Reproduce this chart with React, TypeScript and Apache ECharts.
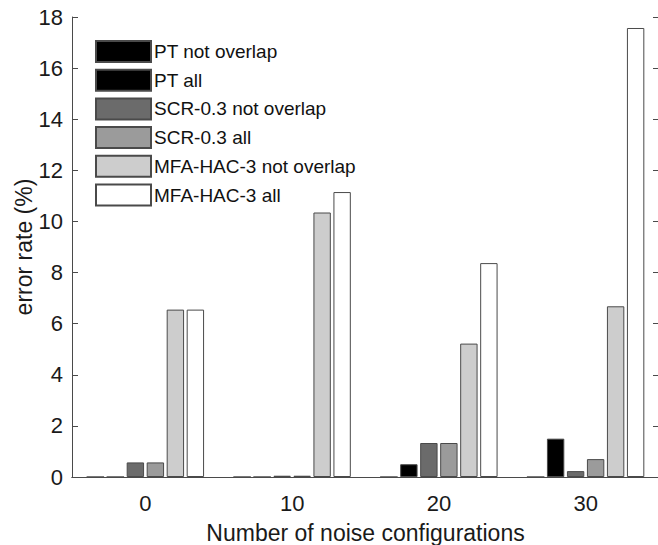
import React, { useEffect, useRef } from "react";
import * as echarts from "echarts";

const categories = ["0", "10", "20", "30"];
const seriesNames = [
  "PT not overlap",
  "PT all",
  "SCR-0.3 not overlap",
  "SCR-0.3 all",
  "MFA-HAC-3 not overlap",
  "MFA-HAC-3 all",
];
const ptNotOverlap = [0, 0, 0, 0];
const ptAll = [0, 0, 0.5, 1.5];
const scrNotOverlap = [0.57, 0.05, 1.33, 0.23];
const scrAll = [0.57, 0.05, 1.33, 0.7];
const mfaNotOverlap = [6.55, 10.35, 5.22, 6.68];
const mfaAll = [6.55, 11.15, 8.37, 17.57];
const seriesColors = ["#000000", "#000000", "#6b6b6b", "#9b9b9b", "#cdcdcd", "#ffffff"];
const yTicks = { min: 0, max: 18, interval: 2 };

export default function App() {
  const ref = useRef<HTMLDivElement>(null);
  useEffect(() => {
    if (!ref.current) return;
    const chart = echarts.init(ref.current, null, { renderer: "svg" });
    const allData = [ptNotOverlap, ptAll, scrNotOverlap, scrAll, mfaNotOverlap, mfaAll];
    const font = "'Liberation Sans', Arial, Helvetica, sans-serif";
    const axisLineStyle = { color: "#4a4a4a", width: 1 };
    chart.setOption({
      animation: false,
      backgroundColor: "#ffffff",
      textStyle: { fontFamily: font },
      grid: {
        left: 72,
        right: 9,
        top: 17,
        bottom: 68,
        containLabel: false,
        outerBoundsMode: "none",
      },
      legend: {
        orient: "vertical",
        left: 95,
        top: 40,
        itemWidth: 55,
        itemHeight: 21,
        itemGap: 5.7,
        icon: "rect",
        data: seriesNames,
        textStyle: {
          fontSize: 19,
          lineHeight: 21,
          height: 21,
          color: "#111",
          fontFamily: font,
          padding: [0, 0, 0, -2],
        },
        padding: 0,
        selectedMode: false,
      },
      xAxis: [
        {
          type: "category",
          data: categories,
          position: "bottom",
          boundaryGap: true,
          axisLine: { lineStyle: axisLineStyle },
          axisTick: { inside: true, alignWithLabel: true, length: 6, lineStyle: axisLineStyle },
          axisLabel: { fontSize: 22, color: "#1a1a1a", margin: 15, fontFamily: font },
          name: "Number of noise configurations",
          nameLocation: "middle",
          nameGap: 44,
          nameTextStyle: { fontSize: 23, color: "#1a1a1a", fontFamily: font },
          splitLine: { show: false },
        },
        {
          type: "category",
          data: categories,
          position: "top",
          boundaryGap: true,
          axisLine: { lineStyle: axisLineStyle },
          axisTick: { inside: true, alignWithLabel: true, length: 6, lineStyle: axisLineStyle },
          axisLabel: { show: false },
          splitLine: { show: false },
        },
      ],
      yAxis: [
        {
          type: "value",
          min: yTicks.min,
          max: yTicks.max,
          interval: yTicks.interval,
          position: "left",
          axisLine: { show: true, lineStyle: axisLineStyle },
          axisTick: { show: true, inside: true, length: 6, lineStyle: axisLineStyle },
          axisLabel: { fontSize: 22, color: "#1a1a1a", margin: 9, fontFamily: font },
          splitLine: { show: false },
          name: "error rate (%)",
          nameLocation: "middle",
          nameGap: 37,
          nameMoveOverlap: false,
          nameTextStyle: { fontSize: 23, color: "#1a1a1a", fontFamily: font },
        },
        {
          type: "value",
          min: yTicks.min,
          max: yTicks.max,
          interval: yTicks.interval,
          position: "right",
          axisLine: { show: true, lineStyle: axisLineStyle },
          axisTick: { show: true, inside: true, length: 6, lineStyle: axisLineStyle },
          axisLabel: { show: false },
          splitLine: { show: false },
        },
      ],
      series: seriesNames.map((name, i) => ({
        name,
        type: "bar",
        xAxisIndex: 0,
        yAxisIndex: 0,
        data: allData[i],
        barGap: "15%",
        barCategoryGap: "20%",
        itemStyle: { color: seriesColors[i], borderColor: "#4a4a4a", borderWidth: 1 },
        emphasis: { disabled: true },
      })),
    });
    return () => chart.dispose();
  }, []);
  return (
    <div
      style={{
        position: "fixed",
        left: 0,
        top: 0,
        width: 658,
        height: 545,
        overflow: "hidden",
        background: "#fff",
      }}
    >
      <div ref={ref} style={{ width: 668, height: 545 }} />
    </div>
  );
}
